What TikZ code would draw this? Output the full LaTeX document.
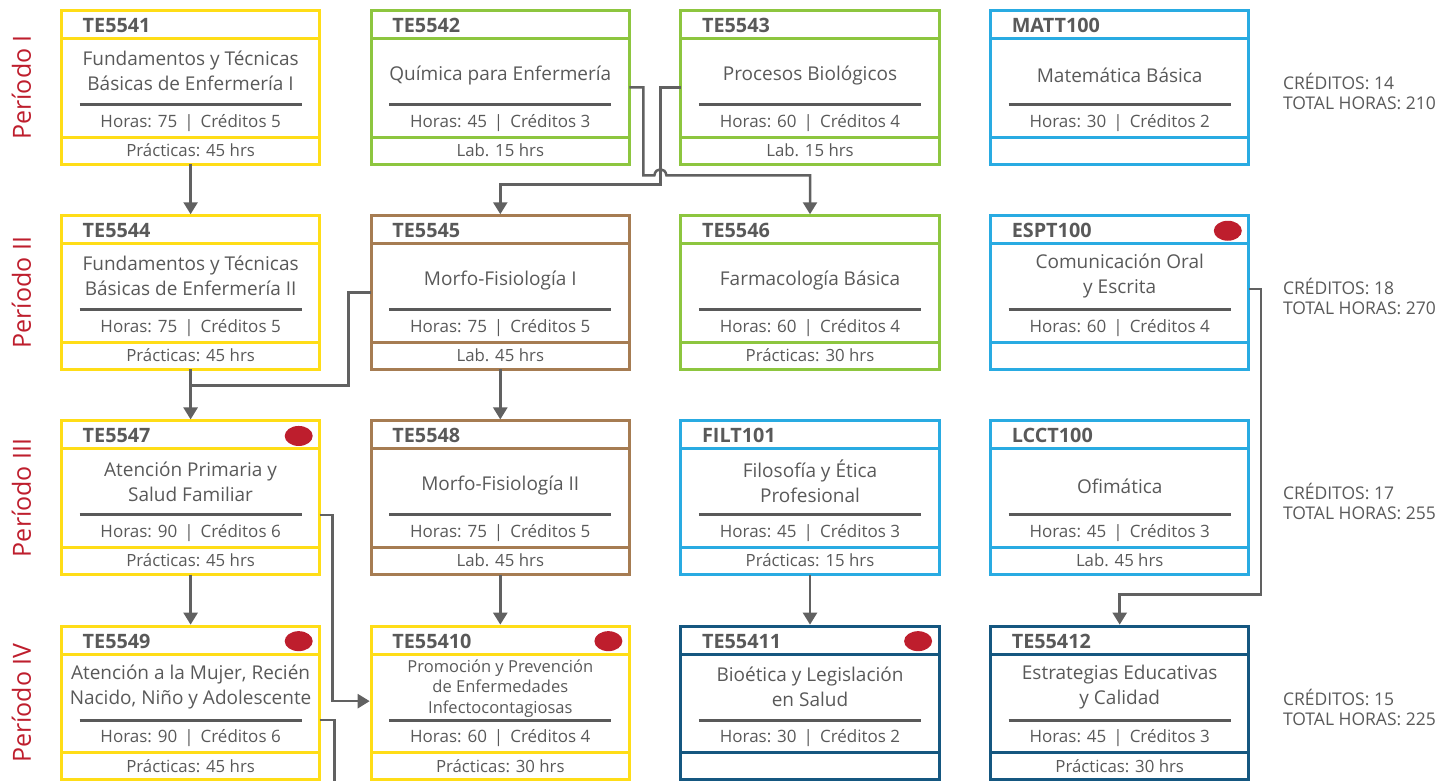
\documentclass[tikz,border=0pt]{standalone}
\usepackage{fontspec}
\setmainfont{Open Sans}
\usetikzlibrary{arrows.meta}
\usetikzlibrary{calc}
\usetikzlibrary{positioning}

\definecolor{amarillo}{RGB}{255,221,23}
\definecolor{verde}{RGB}{141,198,63}
\definecolor{cafe}{RGB}{166,124,82}
\definecolor{celeste}{RGB}{41,171,226}
\definecolor{marino}{RGB}{21,87,128}
\definecolor{gris}{RGB}{89,89,89}
\definecolor{rojo}{RGB}{190,30,45}

% #1 opciones del nombre, #2 clave, #3 lugar, #4 color, #5 nombre, #6 horas, #7 creditos, #8 practica
\newcommand{\curso}[8][]{%
\node [caja,draw=#4,#3] (#2) {};
\draw [#4,line width=3pt] ($(#2.north west)+(0,28)$) -- ($(#2.north east)+(0,28)$);
\draw [#4,line width=3pt] ($(#2.north west)+(0,126.5)$) -- ($(#2.north east)+(0,126.5)$);
\draw [regla] ($(#2.north west)+(18,94)$) -- ($(#2.north east)+(-18,94)$);
\node [clave] (#2-clave) at ($(#2.north west)+(21,22)$) {#2};
\node [nombre,#1] (#2-nombre) at ($(#2.north)+(0,60.5)$) {#5};
\node [horas] (#2-horas) at ($(#2.north)+(0,116.5)$) {Horas: #6\hspace{7pt}|\hspace{7pt}Créditos #7};
\node [practica] (#2-practica) at ($(#2.north)+(0,146)$) {#8};
}
\newcommand{\punto}[1]{\fill [rojo] ($(#1.north east)+(-21,15)$) ellipse [x radius=14pt,y radius=10pt];}

\begin{document}
\begin{tikzpicture}[x=1pt,y=-1pt,node distance=51.5pt,>={Triangle[width=14pt,length=12pt]},
  caja/.style={rectangle,line width=3pt,minimum width=258.2pt,minimum height=153.7pt,outer sep=0pt,inner sep=0pt},
  regla/.style={gris,line width=3pt},
  clave/.style={anchor=base west,text=gris,font=\fontsize{19.8}{22}\selectfont\bfseries,inner sep=0pt},
  nombre/.style={align=center,text=gris,font=\fontsize{19}{25}\selectfont,inner sep=0pt},
  una linea/.style={yshift=-4.5pt},
  chico/.style={yshift=-2pt,font=\fontsize{16.5}{20.5}\selectfont},
  horas/.style={anchor=base,text=gris,font=\fontsize{17}{20}\selectfont,inner sep=0pt},
  practica/.style={anchor=base,text=gris,font=\fontsize{16.8}{20}\selectfont,inner sep=0pt},
  periodo/.style={rotate=90,text=rojo,font=\fontsize{25}{30}\selectfont,inner sep=0pt},
  totales/.style={anchor=west,align=left,text=gris,font=\fontsize{17.5}{20}\selectfont,inner sep=0pt},
  linea/.style={draw=gris!95,line width=2.5pt},
  flecha/.style={linea,->,shorten >=1.5pt}]
\useasboundingbox (0,0) rectangle (1439,781);

% Periodo I
\curso{TE5541}{at={(190.6,87.4)}}{amarillo}{Fundamentos y Técnicas\\Básicas de Enfermería I}{75}{5}{Prácticas: 45 hrs}
\curso[una linea]{TE5542}{right=of TE5541}{verde}{Química para Enfermería}{45}{3}{Lab. 15 hrs}
\curso[una linea]{TE5543}{right=of TE5542}{verde}{Procesos Biológicos}{60}{4}{Lab. 15 hrs}
\curso[una linea]{MATT100}{right=of TE5543}{celeste}{Matemática Básica}{30}{2}{}

% Periodo II
\curso{TE5544}{below=of TE5541}{amarillo}{Fundamentos y Técnicas\\Básicas de Enfermería II}{75}{5}{Prácticas: 45 hrs}
\curso[una linea]{TE5545}{right=of TE5544}{cafe}{Morfo-Fisiología I}{75}{5}{Lab. 45 hrs}
\curso[una linea]{TE5546}{right=of TE5545}{verde}{Farmacología Básica}{60}{4}{Prácticas: 30 hrs}
\curso{ESPT100}{right=of TE5546}{celeste}{Comunicación Oral\\y Escrita}{60}{4}{}
\punto{ESPT100}

% Periodo III
\curso{TE5547}{below=of TE5544}{amarillo}{Atención Primaria y\\Salud Familiar}{90}{6}{Prácticas: 45 hrs}
\curso[una linea]{TE5548}{right=of TE5547}{cafe}{Morfo-Fisiología II}{75}{5}{Lab. 45 hrs}
\curso{FILT101}{right=of TE5548}{celeste}{Filosofía y Ética\\Profesional}{45}{3}{Prácticas: 15 hrs}
\curso[una linea]{LCCT100}{right=of FILT101}{celeste}{Ofimática}{45}{3}{Lab. 45 hrs}
\punto{TE5547}

% Periodo IV
\curso{TE5549}{below=of TE5547}{amarillo}{Atención a la Mujer, Recién\\Nacido, Niño y Adolescente}{90}{6}{Prácticas: 45 hrs}
\curso[chico]{TE55410}{right=of TE5549}{amarillo}{Promoción y Prevención\\de Enfermedades\\Infectocontagiosas}{60}{4}{Prácticas: 30 hrs}
\curso{TE55411}{right=of TE55410}{marino}{Bioética y Legislación\\en Salud}{30}{2}{}
\curso{TE55412}{right=of TE55411}{marino}{Estrategias Educativas\\y Calidad}{45}{3}{Prácticas: 30 hrs}
\punto{TE5549}
\punto{TE55410}
\punto{TE55411}

% periodos y totales
\node [periodo] (periodo1) at ($(TE5541.west)+(-40,0)$) {Período I};
\node [periodo] (periodo2) at ($(TE5544.west)+(-40,0)$) {Período II};
\node [periodo] (periodo3) at ($(TE5547.west)+(-40,0)$) {Período III};
\node [periodo] (periodo4) at ($(TE5549.west)+(-40,0)$) {Período IV};
\node [totales] (total1) at ($(MATT100.east)+(34,4)$) {CRÉDITOS: 14\\TOTAL HORAS: 210};
\node [totales] (total2) at ($(ESPT100.east)+(34,4)$) {CRÉDITOS: 18\\TOTAL HORAS: 270};
\node [totales] (total3) at ($(LCCT100.east)+(34,4)$) {CRÉDITOS: 17\\TOTAL HORAS: 255};
\node [totales] (total4) at ($(TE55412.east)+(34,4)$) {CRÉDITOS: 15\\TOTAL HORAS: 225};

% seriacion
\coordinate (cruce) at ($(TE5542.south east)+(31,11)$);
\coordinate (union) at ($(TE5544.south)+(0,16)$);
\coordinate (codo) at ($(LCCT100.south east)+(12,20)$);
\coordinate (salida) at ($(TE5549.north east)+(15,170)$);
\draw [flecha] (TE5541.south) -- (TE5544.north);
\draw [flecha] (TE5542.east) -| ($(cruce)+(-17,0)$) -- ($(cruce)+(-6,0)$) .. controls ($(cruce)+(-5,-8)$) and ($(cruce)+(5,-8)$) .. ($(cruce)+(6,0)$) -| (TE5546.north);
\draw [flecha] (TE5543.west) -| ($(cruce)+(0,9)$) -| (TE5545.north);
\draw [flecha] (TE5544.south) -- (TE5547.north);
\draw [linea] (TE5545.west) -| ($(union)+(158,0)$) -- (union);
\draw [flecha] (TE5545.south) -- (TE5548.north);
\draw [flecha] ($(ESPT100.north east)+(0,73)$) -| (codo) -| (TE55412.north);
\draw [flecha] (TE5547.south) -- (TE5549.north);
\draw [flecha] (TE5548.south) -- (TE55410.north);
\draw [flecha] (FILT101.south) -- (TE55411.north);
\draw [flecha] ($(TE5547.north east)+(0,94)$) -- ++(13,0) |- ($(TE55410.north west)+(0,75)$);
\draw [linea] ($(TE5549.north east)+(0,94)$) -| (salida);
\end{tikzpicture}
\end{document}
